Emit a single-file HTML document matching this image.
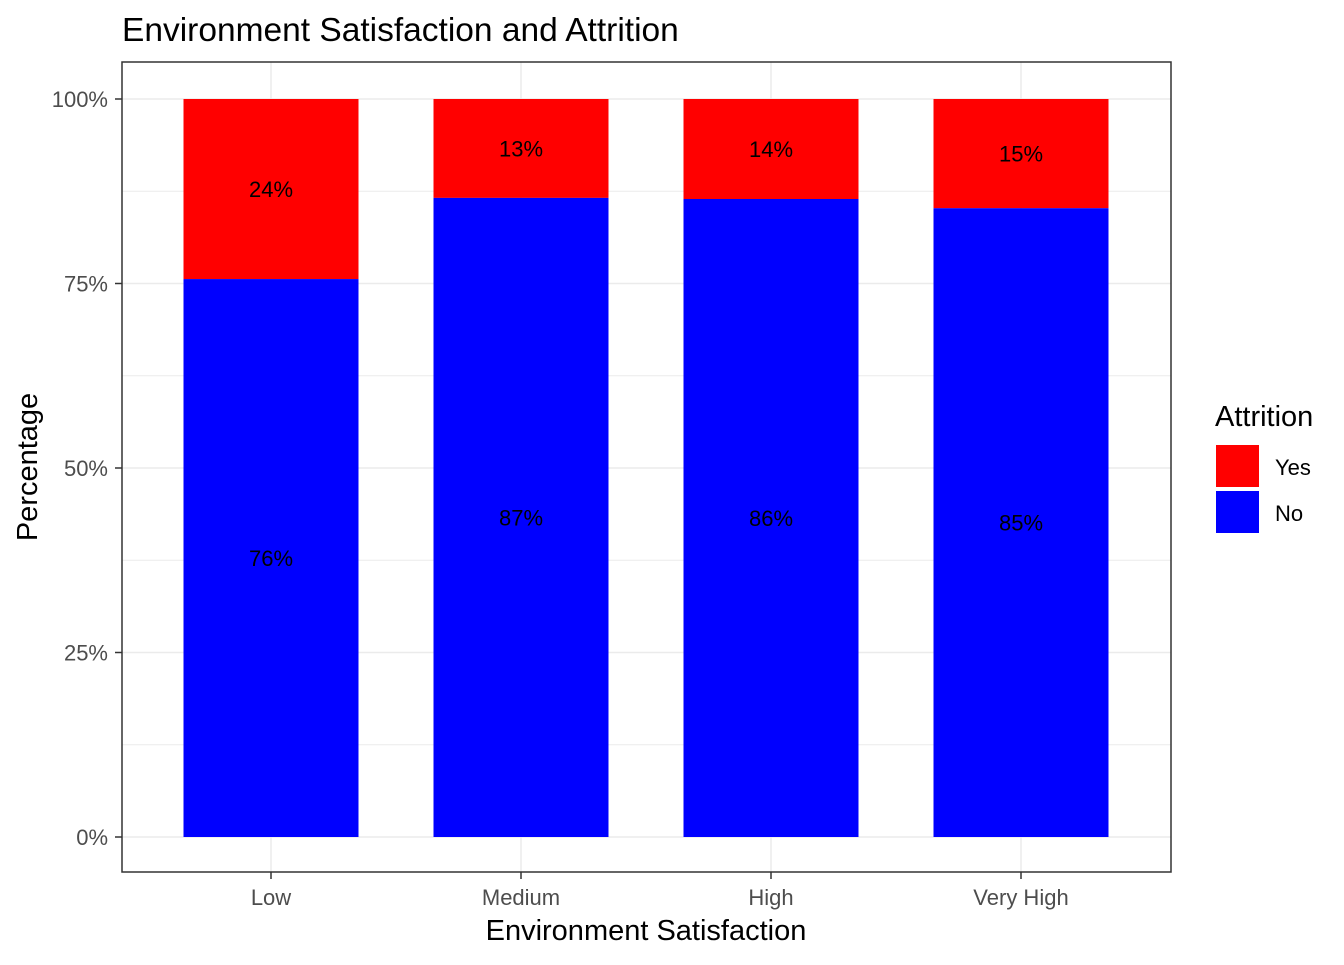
<!DOCTYPE html>
<html><head><meta charset="utf-8"><style>
body{margin:0;background:#fff;font-family:"Liberation Sans",Arial,sans-serif}
</style></head><body>
<svg id="chart" width="1344" height="960" xmlns="http://www.w3.org/2000/svg" font-family="Liberation Sans, Arial, sans-serif"></svg>
<script>
const categories=["Low","Medium","High","Very High"];
const noValues=[0.756,0.866,0.8645,0.852];
const noLabels=["76%","87%","86%","85%"];
const yesLabels=["24%","13%","14%","15%"];
const yTicks=[0,0.25,0.5,0.75,1];
const yTickLabels=["0%","25%","50%","75%","100%"];
const NS="http://www.w3.org/2000/svg";
const svg=document.getElementById('chart');
function el(t,a,txt){const e=document.createElementNS(NS,t);for(const k in a)e.setAttribute(k,a[k]);if(txt!==undefined)e.textContent=txt;svg.appendChild(e);return e;}
const L=122,R=1171,T=62,B=872;
const y=v=>837-v*738;
const x=i=>271+i*250;
const bw=175;
[0.125,0.375,0.625,0.875].forEach(v=>{const g=el('line',{x1:L,x2:R,y1:y(v),y2:y(v),stroke:'#ebebeb','stroke-width':1});

});
yTicks.forEach((v,i)=>{const g=el('line',{x1:L,x2:R,y1:y(v),y2:y(v),stroke:'#ebebeb','stroke-width':1.5});


const tk=el('line',{x1:L-7,x2:L,y1:y(v),y2:y(v),stroke:'#333','stroke-width':1.5});


const t=el('text',{x:L-14,y:y(v)+8,'text-anchor':'end','font-size':22,fill:'#4d4d4d'},yTickLabels[i]);

});
categories.forEach((c,i)=>{const g=el('line',{x1:x(i),x2:x(i),y1:T,y2:B,stroke:'#ebebeb','stroke-width':1.5});

});
categories.forEach((c,i)=>{
const n=noValues[i];
const yb=el('rect',{x:x(i)-bw/2,y:y(1),width:bw,height:y(n)-y(1),fill:'#ff0000'});


const nb=el('rect',{x:x(i)-bw/2,y:y(n),width:bw,height:y(0)-y(n),fill:'#0000ff'});


const t1=el('text',{x:x(i),y:y((1+n)/2)+8,'text-anchor':'middle','font-size':22,fill:'#000'},yesLabels[i]);


const t2=el('text',{x:x(i),y:y(n/2)+8,'text-anchor':'middle','font-size':22,fill:'#000'},noLabels[i]);


const tk=el('line',{x1:x(i),x2:x(i),y1:B,y2:B+7,stroke:'#333','stroke-width':1.5});


const tl=el('text',{x:x(i),y:B+33,'text-anchor':'middle','font-size':22,fill:'#4d4d4d'},c);


});
const fr=el('rect',{x:L,y:T,width:R-L,height:B-T,fill:'none',stroke:'#333','stroke-width':1.5});


</script>
<svg style="position:absolute;left:0;top:0" width="1344" height="960" xmlns="http://www.w3.org/2000/svg" font-family="Liberation Sans, Arial, sans-serif">
<text x="122" y="41" font-size="33.5">Environment Satisfaction and Attrition</text>
<text x="646" y="940" font-size="29" text-anchor="middle">Environment Satisfaction</text>
<text transform="translate(37,467) rotate(-90)" font-size="29" text-anchor="middle">Percentage</text>
<g>
<text x="1215" y="426" font-size="29">Attrition</text>
<rect x="1216" y="445" width="43" height="42" fill="#ff0000"/>
<rect x="1216" y="491" width="43" height="42" fill="#0000ff"/>
<text x="1275" y="475" font-size="22">Yes</text>
<text x="1275" y="521" font-size="22">No</text>
</g>
</svg>
</body></html>
